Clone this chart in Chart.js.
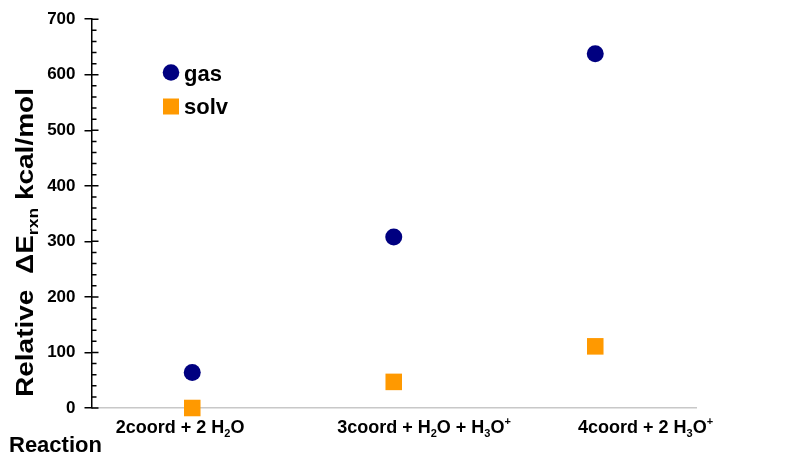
<!DOCTYPE html>
<html>
<head>
<meta charset="utf-8">
<script src="https://cdn.jsdelivr.net/npm/chart.js@4"></script>
<style>
  html, body { margin: 0; padding: 0; background: #fff; }
  #wrap { width: 800px; height: 459px; }
</style>
</head>
<body>
<div id="wrap"><canvas id="chart" width="800" height="459"></canvas></div>
<script>
// data
const categories = ['2coord + 2 H_2O', '3coord + H_2O + H_3O^+', '4coord + 2 H_3O^+'];
const categoryX = [1, 2, 3];
const labelX = [0.94, 2.15, 3.25]; // where the category texts sit (they are not centred on the points)
const gasValues = [64, 308, 638];
const solvValues = [0, 47, 111];
const yTicks = [0, 100, 200, 300, 400, 500, 600, 700];
const yMinorStep = 20;
const yTitle = 'Relative  \u0394E_{rxn} kcal/mol';
const xTitle = 'Reaction';

const FONT = "'Liberation Sans', Arial, sans-serif";
const GAS_COLOR = '#000080';
const SOLV_COLOR = '#ff9900';

// tiny markup: _x / _{xy} subscript, ^x / ^{xy} superscript
function parseRich(str) {
    const out = [];
    let buf = '';
    let i = 0;
    while (i < str.length) {
        const c = str[i];
        if ((c === '_' || c === '^') && i + 1 < str.length) {
            if (buf) { out.push({ t: buf, m: '' }); buf = ''; }
            let t;
            if (str[i + 1] === '{') {
                const j = str.indexOf('}', i + 2);
                t = str.slice(i + 2, j);
                i = j + 1;
            } else {
                t = str[i + 1];
                i += 2;
            }
            out.push({ t, m: c === '_' ? 'sub' : 'sup' });
        } else {
            buf += c;
            i++;
        }
    }
    if (buf) out.push({ t: buf, m: '' });
    return out;
}

function segFont(seg, size) {
    return 'bold ' + (seg.m ? Math.round(size * 0.62) : size) + 'px ' + FONT;
}

function richWidth(ctx, parts, size) {
    let w = 0;
    parts.forEach(p => { ctx.font = segFont(p, size); w += ctx.measureText(p.t).width; });
    return w;
}

// draws centred on x, baseline at y
function drawRich(ctx, str, x, y, size) {
    const parts = parseRich(str);
    let cx = x - richWidth(ctx, parts, size) / 2;
    ctx.textAlign = 'left';
    ctx.textBaseline = 'alphabetic';
    parts.forEach(p => {
        ctx.font = segFont(p, size);
        let dy = 0;
        if (p.m === 'sub') dy = size * 0.22;
        if (p.m === 'sup') dy = -size * 0.42;
        ctx.fillText(p.t, cx, y + dy);
        cx += ctx.measureText(p.t).width;
    });
}

const extras = {
    id: 'extras',
    afterDraw(chart) {
        const ctx = chart.ctx;
        const ys = chart.scales.y;
        const xs = chart.scales.x;
        const area = chart.chartArea;
        ctx.save();
        ctx.fillStyle = '#000';
        ctx.strokeStyle = '#000';

        // inner half of the major ticks plus minor ticks
        ctx.lineWidth = 1.5;
        ctx.beginPath();
        yTicks.forEach(v => {
            const py = ys.getPixelForValue(v);
            ctx.moveTo(area.left, py);
            ctx.lineTo(area.left + 7, py);
        });
        for (let v = yTicks[0]; v <= yTicks[yTicks.length - 1]; v += yMinorStep) {
            if (yTicks.includes(v)) continue;
            const py = ys.getPixelForValue(v);
            ctx.moveTo(area.left, py);
            ctx.lineTo(area.left + 5, py);
        }
        ctx.stroke();

        // category texts
        categories.forEach((c, i) => {
            drawRich(ctx, c, xs.getPixelForValue(labelX[i]), area.bottom + 25, 18);
        });

        // y title, a little stretched along its length like the original
        ctx.save();
        ctx.translate(33, 242.5);
        ctx.rotate(-Math.PI / 2);
        const tw = richWidth(ctx, parseRich(yTitle), 24);
        ctx.scale(309 / tw, 1);
        drawRich(ctx, yTitle, 0, 0, 24);
        ctx.restore();

        ctx.font = 'bold 22px ' + FONT;
        ctx.textAlign = 'left';
        ctx.textBaseline = 'alphabetic';
        ctx.fillText(xTitle, 9, 452);

        // legend
        const ds = chart.data.datasets;
        ctx.fillStyle = ds[0].backgroundColor;
        ctx.beginPath();
        ctx.arc(171, 72.5, 8.3, 0, Math.PI * 2);
        ctx.fill();
        ctx.fillStyle = ds[1].backgroundColor;
        ctx.fillRect(163, 98.5, 16, 16);
        ctx.fillStyle = '#000';
        ctx.font = 'bold 22px ' + FONT;
        ctx.fillText(ds[0].label, 184, 81);
        ctx.fillText(ds[1].label, 184, 114);

        ctx.restore();
    }
};

new Chart(document.getElementById('chart'), {
    type: 'scatter',
    data: {
        datasets: [
            {
                label: 'gas',
                data: categoryX.map((x, i) => ({ x, y: gasValues[i] })),
                pointStyle: 'circle',
                pointRadius: 8.5,
                backgroundColor: GAS_COLOR,
                borderWidth: 0,
                clip: false
            },
            {
                label: 'solv',
                data: categoryX.map((x, i) => ({ x, y: solvValues[i] })),
                pointStyle: 'rect',
                pointRadius: 11.7,
                backgroundColor: SOLV_COLOR,
                borderWidth: 0,
                clip: false
            }
        ]
    },
    options: {
        responsive: false,
        devicePixelRatio: 1,
        animation: false,
        layout: { padding: { top: 17, right: 104, bottom: 0, left: 0 } },
        plugins: {
            legend: { display: false },
            tooltip: { enabled: false }
        },
        scales: {
            x: {
                type: 'linear',
                min: 0.5,
                max: 3.5,
                afterFit(scale) { scale.height = 51; },
                ticks: { display: false },
                grid: { display: false },
                border: { display: true, color: '#c8c8c8', width: 1.5 }
            },
            y: {
                min: 0,
                max: 700,
                afterFit(scale) { scale.width = 91.5; },
                afterBuildTicks(scale) { scale.ticks = yTicks.map(v => ({ value: v })); },
                ticks: {
                    color: '#000',
                    padding: 9,
                    font: { family: FONT, size: 17, weight: 'bold' }
                },
                grid: {
                    drawOnChartArea: false,
                    drawTicks: true,
                    tickLength: 7,
                    color: '#000',
                    lineWidth: 1.5
                },
                border: { display: true, color: '#000', width: 1.5 }
            }
        }
    },
    plugins: [extras]
});
</script>
</body>
</html>
